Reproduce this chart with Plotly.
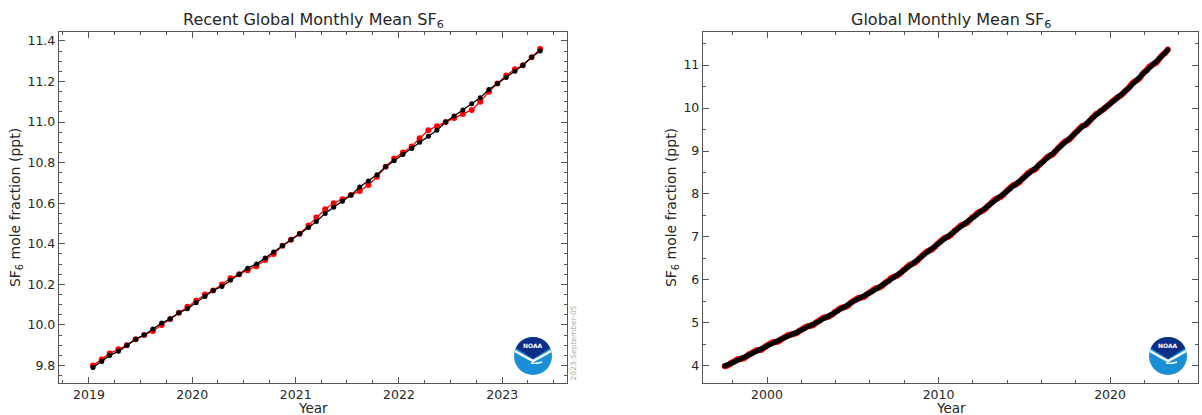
import pandas as pd
import plotly.graph_objects as go

# ---------------- data ----------------
# Recent panel: monthly, Jan 2019 .. May 2023
recent_start = "2019-01"
recent_trend = [
    9.79, 9.82, 9.85, 9.87, 9.90, 9.93, 9.95, 9.98, 10.01, 10.03, 10.06, 10.08,
    10.11, 10.14, 10.17, 10.19, 10.22, 10.25, 10.28, 10.30, 10.33, 10.36, 10.39, 10.42,
    10.45, 10.48, 10.51, 10.55, 10.58, 10.61, 10.64, 10.68, 10.71, 10.74, 10.78, 10.81,
    10.84, 10.87, 10.90, 10.93, 10.96, 11.00, 11.03, 11.06, 11.09, 11.12, 11.16, 11.19,
    11.22, 11.25, 11.28, 11.32, 11.35,
]
recent_monthly = [
    9.80, 9.83, 9.86, 9.88, 9.90, 9.93, 9.95, 9.97, 10.00, 10.03, 10.06, 10.09,
    10.12, 10.15, 10.17, 10.20, 10.23, 10.25, 10.27, 10.29, 10.32, 10.35, 10.39, 10.42,
    10.45, 10.49, 10.53, 10.57, 10.60, 10.62, 10.64, 10.66, 10.69, 10.73, 10.78, 10.82,
    10.85, 10.88, 10.92, 10.96, 10.98, 11.00, 11.02, 11.04, 11.06, 11.10, 11.15, 11.19,
    11.23, 11.26, 11.28, 11.32, 11.36,
]

# Full record: monthly, Jul 1997 .. Dec 2018 (then continues with the recent lists)
full_start = "1997-07"
early_trend = [
    4.00, 4.01, 4.03, 4.04, 4.05, 4.07,
    4.08, 4.10, 4.11, 4.13, 4.14, 4.16, 4.18, 4.19, 4.21, 4.22, 4.24, 4.26,
    4.27, 4.29, 4.30, 4.32, 4.34, 4.35, 4.37, 4.39, 4.40, 4.42, 4.44, 4.45,
    4.47, 4.49, 4.50, 4.52, 4.53, 4.55, 4.57, 4.58, 4.60, 4.61, 4.63, 4.64,
    4.66, 4.67, 4.69, 4.70, 4.72, 4.73, 4.75, 4.76, 4.78, 4.79, 4.81, 4.82,
    4.84, 4.86, 4.87, 4.89, 4.91, 4.92, 4.94, 4.96, 4.97, 4.99, 5.01, 5.02,
    5.04, 5.06, 5.08, 5.10, 5.11, 5.13, 5.15, 5.17, 5.19, 5.20, 5.22, 5.24,
    5.26, 5.28, 5.30, 5.32, 5.34, 5.36, 5.38, 5.40, 5.42, 5.44, 5.46, 5.48,
    5.50, 5.52, 5.53, 5.55, 5.57, 5.59, 5.60, 5.62, 5.64, 5.66, 5.68, 5.69,
    5.71, 5.73, 5.75, 5.77, 5.79, 5.81, 5.83, 5.86, 5.88, 5.90, 5.92, 5.94,
    5.96, 5.98, 6.01, 6.03, 6.05, 6.08, 6.10, 6.12, 6.15, 6.17, 6.19, 6.22,
    6.24, 6.27, 6.29, 6.32, 6.34, 6.37, 6.40, 6.42, 6.45, 6.47, 6.50, 6.52,
    6.55, 6.58, 6.60, 6.63, 6.65, 6.68, 6.71, 6.73, 6.76, 6.78, 6.81, 6.83,
    6.86, 6.89, 6.91, 6.94, 6.96, 6.99, 7.01, 7.04, 7.06, 7.09, 7.11, 7.14,
    7.16, 7.19, 7.21, 7.24, 7.26, 7.29, 7.31, 7.34, 7.36, 7.39, 7.41, 7.44,
    7.46, 7.49, 7.51, 7.54, 7.56, 7.59, 7.62, 7.64, 7.67, 7.69, 7.72, 7.74,
    7.77, 7.80, 7.82, 7.85, 7.87, 7.90, 7.93, 7.95, 7.98, 8.00, 8.03, 8.05,
    8.08, 8.11, 8.13, 8.16, 8.19, 8.21, 8.24, 8.27, 8.29, 8.32, 8.35, 8.37,
    8.40, 8.43, 8.46, 8.48, 8.51, 8.54, 8.57, 8.59, 8.62, 8.65, 8.68, 8.70,
    8.73, 8.76, 8.79, 8.82, 8.85, 8.88, 8.91, 8.93, 8.96, 8.99, 9.02, 9.05,
    9.08, 9.11, 9.14, 9.17, 9.20, 9.23, 9.26, 9.29, 9.32, 9.35, 9.38, 9.41,
    9.44, 9.47, 9.50, 9.53, 9.56, 9.59, 9.61, 9.64, 9.67, 9.70, 9.73, 9.76,
]
early_monthly = [
    3.99, 4.00, 4.01, 4.03, 4.05, 4.08,
    4.09, 4.11, 4.13, 4.15, 4.16, 4.16, 4.17, 4.17, 4.19, 4.21, 4.24, 4.27,
    4.28, 4.30, 4.32, 4.34, 4.36, 4.36, 4.36, 4.37, 4.38, 4.41, 4.44, 4.46,
    4.48, 4.50, 4.52, 4.54, 4.55, 4.55, 4.56, 4.56, 4.58, 4.60, 4.63, 4.65,
    4.67, 4.69, 4.71, 4.72, 4.73, 4.73, 4.74, 4.75, 4.76, 4.78, 4.81, 4.83,
    4.85, 4.87, 4.89, 4.91, 4.92, 4.92, 4.93, 4.94, 4.95, 4.98, 5.01, 5.03,
    5.05, 5.07, 5.10, 5.12, 5.13, 5.13, 5.14, 5.15, 5.17, 5.19, 5.22, 5.25,
    5.27, 5.29, 5.32, 5.34, 5.36, 5.36, 5.37, 5.38, 5.40, 5.43, 5.46, 5.49,
    5.51, 5.53, 5.55, 5.57, 5.58, 5.59, 5.59, 5.60, 5.62, 5.65, 5.68, 5.70,
    5.72, 5.74, 5.77, 5.79, 5.81, 5.81, 5.82, 5.84, 5.86, 5.89, 5.92, 5.95,
    5.97, 5.99, 6.03, 6.05, 6.07, 6.08, 6.09, 6.10, 6.13, 6.16, 6.19, 6.23,
    6.25, 6.28, 6.31, 6.34, 6.36, 6.37, 6.39, 6.40, 6.43, 6.46, 6.50, 6.53,
    6.56, 6.59, 6.62, 6.65, 6.67, 6.68, 6.70, 6.71, 6.74, 6.77, 6.81, 6.84,
    6.87, 6.90, 6.93, 6.96, 6.98, 6.99, 7.00, 7.02, 7.04, 7.08, 7.11, 7.15,
    7.17, 7.20, 7.23, 7.26, 7.28, 7.29, 7.30, 7.32, 7.34, 7.38, 7.41, 7.45,
    7.47, 7.50, 7.53, 7.56, 7.58, 7.59, 7.61, 7.62, 7.65, 7.68, 7.72, 7.75,
    7.78, 7.81, 7.84, 7.87, 7.89, 7.90, 7.92, 7.93, 7.96, 7.99, 8.03, 8.06,
    8.09, 8.12, 8.15, 8.18, 8.21, 8.21, 8.23, 8.25, 8.27, 8.31, 8.35, 8.38,
    8.41, 8.44, 8.48, 8.50, 8.53, 8.54, 8.56, 8.57, 8.60, 8.64, 8.68, 8.71,
    8.74, 8.77, 8.81, 8.84, 8.87, 8.88, 8.90, 8.91, 8.94, 8.98, 9.02, 9.06,
    9.09, 9.12, 9.16, 9.19, 9.22, 9.23, 9.25, 9.27, 9.30, 9.34, 9.38, 9.42,
    9.45, 9.48, 9.52, 9.55, 9.58, 9.59, 9.60, 9.62, 9.65, 9.69, 9.73, 9.77,
]
full_trend = early_trend + recent_trend
full_monthly = early_monthly + recent_monthly

left_title = "Recent Global Monthly Mean SF<sub>6</sub>"
right_title = "Global Monthly Mean SF<sub>6</sub>"
y_title = "SF<sub>6</sub> mole fraction (ppt)"
x_title = "Year"
stamp = "2023-September-05"


def month_dates(start, n):
    return pd.date_range(start + "-01", periods=n, freq="MS") + pd.Timedelta(days=14)


recent_x = month_dates(recent_start, len(recent_trend))
full_x = month_dates(full_start, len(full_trend))

# ---------------- figure ----------------
W, H = 1202, 415
FONT = "DejaVu Sans"
TXT = "#262626"
AX = "#555555"

fig = go.Figure()
fig.add_trace(go.Scatter(x=recent_x, y=recent_monthly, mode="lines+markers",
                         line=dict(color="#ff0000", width=1.3),
                         marker=dict(color="#ff0000", size=6, symbol="circle"),
                         xaxis="x", yaxis="y", showlegend=False, hoverinfo="skip"))
fig.add_trace(go.Scatter(x=recent_x, y=recent_trend, mode="lines+markers",
                         line=dict(color="#000000", width=1.3),
                         marker=dict(color="#000000", size=5, symbol="circle"),
                         xaxis="x", yaxis="y", showlegend=False, hoverinfo="skip"))
fig.add_trace(go.Scatter(x=full_x, y=full_monthly, mode="lines+markers",
                         line=dict(color="#ff0000", width=1.3),
                         marker=dict(color="#ff0000", size=6, symbol="circle"),
                         xaxis="x2", yaxis="y2", showlegend=False, hoverinfo="skip"))
fig.add_trace(go.Scatter(x=full_x, y=full_trend, mode="lines+markers",
                         line=dict(color="#000000", width=1.3),
                         marker=dict(color="#000000", size=5, symbol="circle"),
                         xaxis="x2", yaxis="y2", showlegend=False, hoverinfo="skip"))


def px_x(p):
    return p / W


def px_y(p):
    return 1 - p / H


L_X0, L_X1 = 59, 567
R_X0, R_X1 = 703, 1198
Y_TOP, Y_BOT = 32, 383

common = dict(showgrid=False, zeroline=False, showline=True, linecolor=AX, linewidth=1.2,
              mirror="ticks", ticks="inside", ticklen=6, tickwidth=1, tickcolor=AX,
              automargin=False,
              tickfont=dict(family=FONT, size=12.5, color=TXT))
title_font = dict(family=FONT, size=14, color=TXT)

fig.update_layout(
    width=W, height=H, margin=dict(l=0, r=0, t=0, b=0),
    paper_bgcolor="white", plot_bgcolor="white",
    font=dict(family=FONT, color=TXT),
    hovermode=False,
    xaxis=dict(domain=[px_x(L_X0), px_x(L_X1)], anchor="y", type="date",
               range=["2018-09-17", "2023-08-18"], dtick="M12", tick0="2000-01-01",
               tickformat="%Y",
               minor=dict(dtick="M3", ticks="inside", ticklen=3, tickcolor=AX),
               **common),
    yaxis=dict(domain=[px_y(Y_BOT), px_y(Y_TOP)], anchor="x",
               range=[9.714, 11.444], dtick=0.2, tick0=0, tickformat=".1f",
               minor=dict(dtick=0.05, ticks="inside", ticklen=3, tickcolor=AX),
               title=dict(text=y_title, font=title_font, standoff=3),
               **common),
    xaxis2=dict(domain=[px_x(R_X0), px_x(R_X1)], anchor="y2", type="date",
                range=["1996-04-08", "2025-02-16"], dtick="M120", tick0="2000-01-01",
                tickformat="%Y",
                minor=dict(dtick="M24", ticks="inside", ticklen=3, tickcolor=AX),
                **common),
    yaxis2=dict(domain=[px_y(Y_BOT), px_y(Y_TOP)], anchor="x2",
                range=[3.60, 11.77], dtick=1, tick0=0,
                minor=dict(dtick=0.5, ticks="inside", ticklen=3, tickcolor=AX),
                title=dict(text=y_title, font=title_font, standoff=3),
                **common),
)

# panel titles and x-axis titles
for txt, x0, x1 in [(left_title, L_X0, L_X1), (right_title, R_X0, R_X1)]:
    fig.add_annotation(text=txt, x=px_x((x0 + x1) / 2), y=px_y(Y_TOP), xref="paper", yref="paper",
                       xanchor="center", yanchor="bottom", yshift=-1, showarrow=False,
                       font=dict(family=FONT, size=16, color=TXT))
    fig.add_annotation(text=x_title, x=px_x((x0 + x1) / 2), y=0, xref="paper", yref="paper",
                       xanchor="center", yanchor="bottom", yshift=-3, showarrow=False,
                       font=dict(family=FONT, size=13.5, color=TXT))

# date stamp
fig.add_annotation(text=stamp, x=px_x(573), y=px_y(Y_BOT), xref="paper", yref="paper",
                   xanchor="center", yanchor="bottom", textangle=-90, showarrow=False,
                   font=dict(family=FONT, size=7.5, color="#aaaaaa"))


# NOAA logos, drawn in paper coordinates converted from pixel offsets
def logo_path(cx, cy, pts):
    """pts: list of (cmd, [(dx, dy), ...]) with dy positive upward (pixels)."""
    out = []
    for cmd, coords in pts:
        s = cmd
        for dx, dy in coords:
            s += " %.5f,%.5f" % (px_x(cx + dx), px_y(cy - dy))
        out.append(s)
    return " ".join(out)


for cx, cy in [(533, 356), (1168, 356)]:
    r = 19
    fig.add_shape(type="circle", xref="paper", yref="paper",
                  x0=px_x(cx - r), x1=px_x(cx + r), y0=px_y(cy + r), y1=px_y(cy - r),
                  fillcolor="#1a8fd6", line=dict(width=0), layer="above")
    cap = logo_path(cx, cy, [("M", [(-17.2, 8)]),
                             ("C", [(-10.4, 22.6), (10.4, 22.6), (17.2, 8)]),
                             ("L", [(0, -3)]), ("Z", [])])
    fig.add_shape(type="path", xref="paper", yref="paper", path=cap,
                  fillcolor="#0b2f86", line=dict(width=0), layer="above")
    wing = logo_path(cx, cy, [("M", [(-18, 5)]), ("Q", [(-8, -1), (0, -5)]),
                              ("Q", [(8, -1), (18, 5)])])
    fig.add_shape(type="path", xref="paper", yref="paper", path=wing,
                  line=dict(color="white", width=2.5), layer="above")
    tail = logo_path(cx, cy, [("M", [(-2, -7)]), ("Q", [(4, -8), (9, -6)])])
    fig.add_shape(type="path", xref="paper", yref="paper", path=tail,
                  line=dict(color="white", width=1.5), layer="above")
    fig.add_annotation(text="<b>NOAA</b>", x=px_x(cx), y=px_y(cy - 11), xref="paper", yref="paper",
                       xanchor="center", yanchor="middle", showarrow=False,
                       font=dict(family=FONT, size=6, color="white"))

fig.write_html("out.html", config={"displayModeBar": False, "staticPlot": True},
               post_script="document.body.style.margin='0';document.body.style.overflow='hidden';")
